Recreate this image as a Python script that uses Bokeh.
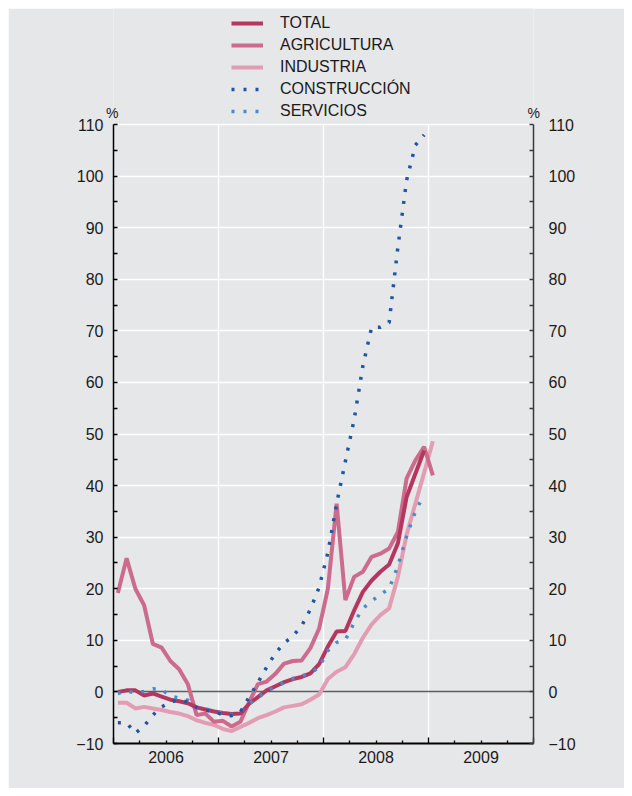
import pandas as pd
from bokeh.plotting import figure
from bokeh.models import (Range1d, LinearAxis, FixedTicker, Grid, Legend,
                          LegendItem, ColumnDataSource, CustomLabelingPolicy)
from bokeh.embed import file_html
from bokeh.resources import INLINE

NaN = float("nan")

# Monthly data, January 2006 - January 2009 (year-on-year % change)
months = pd.date_range("2006-01-01", "2009-01-01", freq="MS")

total = [0.0, 0.3, 0.3, -0.7, -0.3, -0.9, -1.5, -1.8, -2.2, -3.0, -3.4, -3.8,
         -4.1, -4.3, -4.2, -2.3, -1.0, 0.3, 1.1, 1.9, 2.5, 2.9, 3.6, 5.4,
         8.8, 11.7, 11.8, 15.8, 19.4, 21.6, 23.3, 24.7, 28.8, 37.8, 42.3, 46.8,
         NaN]
agricultura = [19.2, 25.9, 20.0, 16.8, 9.3, 8.6, 6.0, 4.4, 1.5, -4.5, -4.2, -5.8,
               -5.6, -6.7, -5.8, -2.0, 1.5, 2.0, 3.5, 5.5, 6.0, 6.1, 8.5, 12.3,
               20.0, 36.5, 17.8, 22.3, 23.3, 26.2, 26.8, 27.8, 31.0, 41.4, 44.9, 47.5,
               42.0]
industria = [-2.1, -2.1, -3.2, -2.9, -3.2, -3.5, -3.9, -4.2, -4.7, -5.5, -6.0, -6.4,
             -7.2, -7.6, -6.8, -6.0, -5.1, -4.5, -3.8, -3.0, -2.7, -2.4, -1.5, -0.5,
             2.5, 3.9, 4.8, 7.3, 10.5, 13.1, 14.9, 16.2, 22.3, 30.5, 36.5, 42.5,
             48.6]
construccion = [-6.0, -6.0, -8.0, -6.6, -4.5, -2.9, -2.0, -1.5, -2.0, -3.0, -3.5, -3.9,
                -4.4, -4.6, -3.9, -1.0, 1.8, 4.8, 7.5, 9.5, 10.8, 12.8, 16.0, 20.3,
                27.0, 36.5, 44.7, 52.8, 63.2, 70.7, 70.7, 71.6, 86.2, 99.2, 106.0, 108.0,
                NaN]
servicios = [-0.3, 0.2, -0.2, 0.1, 0.6, 0.5, -0.8, -1.2, -1.6, -3.1, -3.4, -3.5,
             -4.3, -4.4, -3.8, -2.3, -1.2, 0.2, 0.9, 1.8, 2.6, 3.1, 3.6, 4.8,
             8.0, 9.6, 10.1, 13.4, 16.2, 17.6, 18.9, 20.0, 24.4, 30.2, 35.0, 38.3,
             NaN]

series_names = ["TOTAL", "AGRICULTURA", "INDUSTRIA", "CONSTRUCCIÓN", "SERVICIOS"]
year_labels = ["2006", "2007", "2008", "2009"]
y_ticks = list(range(-10, 111, 10))
unit_label = "%"

# x position: middle of each month, in decimal years
x = [m.year + (m.month - 0.5) / 12 for m in months]

BG = "#e6e7e8"
FONT = "Liberation Sans"
TXT = "#1a1a1a"
colors = {"TOTAL": "#b4375f", "AGRICULTURA": "#cc6b8c", "INDUSTRIA": "#e39db3",
          "CONSTRUCCIÓN": "#1f55a5", "SERVICIOS": "#4d88c9"}

X0, X1 = 2006, 2010
Y_TOP = 132.5                # room above the 110 line for the legend

p = figure(width=616, height=780, output_backend="svg", toolbar_location=None,
           x_range=Range1d(X0, X1), y_range=Range1d(-10, Y_TOP),
           min_border_left=105, min_border_right=91, min_border_top=0,
           min_border_bottom=45)
p.margin = (8, 8, 8, 8)
p.background_fill_color = BG
p.border_fill_color = BG
p.outline_line_color = None

# grids
p.ygrid.ticker = FixedTicker(ticks=[t for t in y_ticks if t > 0])
p.ygrid.grid_line_color = "white"
p.ygrid.grid_line_width = 1.4
p.xgrid.ticker = FixedTicker(ticks=[2007, 2008, 2009])
p.xgrid.grid_line_color = "white"
p.xgrid.grid_line_width = 1.4
p.xgrid.cross_bounds = (-10, 110)

zero = Grid(dimension=1, ticker=FixedTicker(ticks=[0]), grid_line_color="#5e5e5e",
            grid_line_width=1.6)
p.add_layout(zero)

def style_y(ax, standoff, line_color):
    ax.ticker = FixedTicker(ticks=y_ticks, minor_ticks=[t + 5 for t in y_ticks[:-1]])
    ax.bounds = (-10, 110)
    ax.major_tick_in = 4
    ax.major_tick_out = 0
    ax.minor_tick_in = 4
    ax.minor_tick_out = 0
    ax.axis_line_color = line_color
    ax.axis_line_width = 1.5
    ax.major_tick_line_color = line_color
    ax.minor_tick_line_color = line_color
    ax.major_tick_line_width = 1.3
    ax.minor_tick_line_width = 1.3
    ax.major_label_text_font = FONT
    ax.major_label_text_font_size = "16px"
    ax.major_label_text_color = TXT
    ax.major_label_standoff = standoff

style_y(p.yaxis[0], 10, "black")
ra = LinearAxis()
style_y(ra, 15, "#3a3a3a")
p.add_layout(ra, "right")

# "%" unit marks over both value axes (label-only axes pulled back over the axis line)
PCT_Y = 112.2
def unit_axis(standoff):
    ax = LinearAxis(ticker=FixedTicker(ticks=[PCT_Y], minor_ticks=[]),
                    major_label_overrides={PCT_Y: unit_label})
    ax.axis_line_color = None
    ax.major_tick_line_color = None
    ax.minor_tick_line_color = None
    ax.major_tick_in = 0
    ax.major_tick_out = 0
    ax.major_label_standoff = standoff
    ax.major_label_text_font = FONT
    ax.major_label_text_font_size = "14px"
    ax.major_label_text_color = TXT
    return ax

p.add_layout(unit_axis(-45), "left")
p.add_layout(unit_axis(-51), "right")

# bottom: tick axis (no labels) + label axis
xa = p.xaxis[0]
xa.ticker = FixedTicker(ticks=[2006, 2007, 2008, 2009, 2010],
                        minor_ticks=[2006 + q / 4 for q in range(16) if q % 4])
xa.major_tick_in = 6
xa.major_tick_out = 0
xa.minor_tick_in = 3
xa.minor_tick_out = 0
xa.axis_line_color = "black"
xa.axis_line_width = 2.2
xa.major_tick_line_width = 1.3
xa.minor_tick_line_width = 1.3
xa.major_label_policy = CustomLabelingPolicy(code="return []")
xa.major_label_text_font_size = "1px"
xa.major_label_standoff = 0

mid_ticks = [int(y) + 0.5 for y in year_labels]
la = LinearAxis(ticker=FixedTicker(ticks=mid_ticks, minor_ticks=[]),
                major_label_overrides={t: lab for t, lab in zip(mid_ticks, year_labels)})
la.axis_line_color = None
la.major_tick_line_color = None
la.minor_tick_line_color = None
la.major_tick_in = 0
la.major_tick_out = 0
la.major_label_standoff = 3
la.major_label_text_font = FONT
la.major_label_text_font_size = "16px"
la.major_label_text_color = TXT
p.add_layout(la, "below")

src = ColumnDataSource(dict(x=x, TOTAL=total, AGRICULTURA=agricultura,
                            INDUSTRIA=industria, CONSTRUCCION=construccion,
                            SERVICIOS=servicios))

r_ind = p.line("x", "INDUSTRIA", source=src, line_color=colors["INDUSTRIA"], line_width=4)
r_agr = p.line("x", "AGRICULTURA", source=src, line_color=colors["AGRICULTURA"], line_width=4)
r_tot = p.line("x", "TOTAL", source=src, line_color=colors["TOTAL"], line_width=4)
r_ser = p.line("x", "SERVICIOS", source=src, line_color=colors["SERVICIOS"],
               line_width=3.5, line_dash="3 9")
r_con = p.line("x", "CONSTRUCCION", source=src, line_color=colors["CONSTRUCCIÓN"],
               line_width=3.5, line_dash="3 9")

renderers = [r_tot, r_agr, r_ind, r_con, r_ser]
legend = Legend(items=[LegendItem(label=n, renderers=[r]) for n, r in zip(series_names, renderers)],
                location=(118, 622), orientation="vertical",
                glyph_width=32, glyph_height=20, spacing=2, padding=0, margin=0,
                label_standoff=17, border_line_color=None, background_fill_alpha=0,
                label_text_font=FONT, label_text_font_size="16px",
                label_text_color=TXT, label_height=20)
p.add_layout(legend)

open("out.html", "w").write(file_html(p, INLINE))
